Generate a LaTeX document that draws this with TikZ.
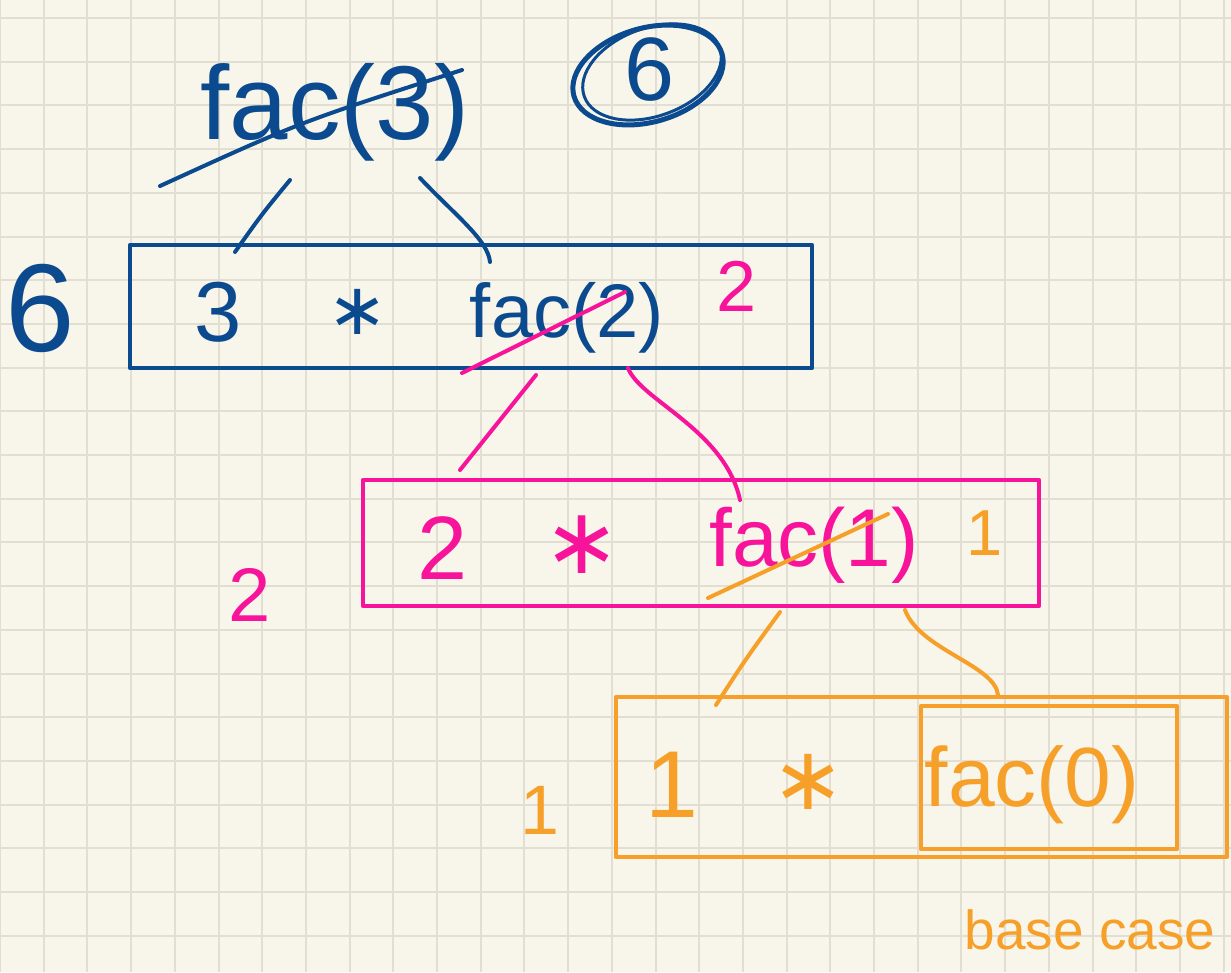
\documentclass[tikz,border=0pt]{standalone}
\usepackage{fontspec}
\setmainfont{Liberation Sans}
\newfontfamily\starfont{DejaVu Sans}
\definecolor{paper}{HTML}{F8F6EA}
\definecolor{gridc}{HTML}{E2DFD2}
\definecolor{inkblue}{HTML}{0B4A8E}
\definecolor{inkpink}{HTML}{F7149B}
\definecolor{inkorange}{HTML}{F6A02A}
\tikzset{
  frame/.style={draw=#1, line width=4.5pt, inner sep=0pt, line join=round},
  ink/.style={text=#1, inner sep=0pt},
  fs/.style={font=\fontsize{#1}{#1}\selectfont},
  starfs/.style={font=\fontsize{#1}{#1}\selectfont\starfont},
  wire/.style={draw=#1, line width=4pt, line cap=round, line join=round},
}
\begin{document}
\begin{tikzpicture}[x=1pt,y=-1pt]
\useasboundingbox (0,0) rectangle (1231,972);
\fill[paper] (0,0) rectangle (1231,972);
% grid
\foreach \k in {0,...,28} \draw[gridc, line width=2pt] ({43.7*\k},0) -- ({43.7*\k},972);
\foreach \k in {0,...,22} \draw[gridc, line width=2pt] (0,{18+43.7*\k}) -- (1231,{18+43.7*\k});

% boxes
\node[frame=inkblue, minimum width=682pt, minimum height=123pt] (bbox) at (471,306.5) {};
\node[frame=inkpink, minimum width=676pt, minimum height=126pt] (pbox) at (701,543) {};
\node[frame=inkorange, minimum width=611pt, minimum height=160pt] (obox) at (921.5,777) {};
\node[frame=inkorange, minimum width=256pt, minimum height=143pt] (ibox) at (1049,777.5) {};

% top level
\node[ink=inkblue, fs=105] (fac3) at (335,112) {fac(3)};
\node[ink=inkblue, fs=90] (six) at (650,70) {6};
\draw[inkblue, line width=5pt, rotate around={16:(648,75)}] (648,75) ellipse [x radius=77pt, y radius=47pt];
\draw[inkblue, line width=3pt, rotate around={20:(652,72)}] (652,72) ellipse [x radius=72pt, y radius=44pt];
\draw[wire=inkblue] (160,186) .. controls (300,122) .. (462,70);

% blue level
\node[ink=inkblue, fs=125] (six2) at (40,308) {6};
\node[ink=inkblue, fs=85] (three) at (218,312) {3};
\node[ink=inkblue, starfs=72] (bstar) at (358,312) {∗};
\node[ink=inkblue, fs=76] (fac2) at (567,318) {fac(2)};
\node[ink=inkpink, fs=72] (two1) at (737,286) {2};
\draw[wire=inkpink] (462,373) -- (625,292);

\coordinate (b1s) at (290,180);
\coordinate (b1e) at (235,252);
\coordinate (b2s) at (420,178);
\coordinate (b2e) at (490,262);
\draw[wire=inkblue] (b1s) .. controls (262,214) .. (b1e);
\draw[wire=inkblue] (b2s) .. controls (455,215) and (488,240) .. (b2e);

% pink level
\node[ink=inkpink, fs=76] (two2) at (250,595) {2};
\node[ink=inkpink, fs=90] (two3) at (443,548) {2};
\node[ink=inkpink, starfs=92] (pstar) at (582,545) {∗};
\node[ink=inkpink, fs=82] (fac1) at (814,545) {fac(1)};
\node[ink=inkorange, fs=65] (one1) at (985,533) {1};
\draw[wire=inkorange] (708,598) -- (888,514);

\coordinate (p1s) at (536,375);
\coordinate (p1e) at (460,470);
\coordinate (p2s) at (628,368);
\coordinate (p2e) at (740,500);
\draw[wire=inkpink] (p1s) .. controls (500,420) .. (p1e);
\draw[wire=inkpink] (p2s) .. controls (640,400) and (725,430) .. (p2e);

% orange level
\node[ink=inkorange, fs=70] (one2) at (540,810) {1};
\node[ink=inkorange, fs=95] (one3) at (672,785) {1};
\node[ink=inkorange, starfs=88] (ostar) at (808,782) {∗};
\node[ink=inkorange, fs=84] (fac0) at (1032,785) {fac(0)};
\node[ink=inkorange, fs=55] (base) at (1090,930) {base case};

\coordinate (o1s) at (780,612);
\coordinate (o1e) at (716,705);
\coordinate (o2s) at (905,610);
\coordinate (o2e) at (998,695);
\draw[wire=inkorange] (o1s) .. controls (745,660) .. (o1e);
\draw[wire=inkorange] (o2s) .. controls (920,650) and (995,665) .. (o2e);
\end{tikzpicture}
\end{document}
